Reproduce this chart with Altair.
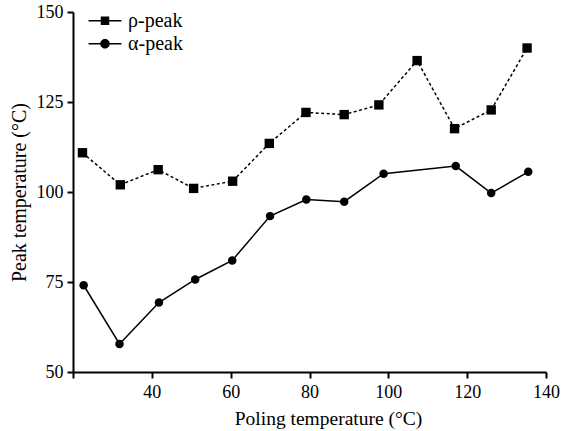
import altair as alt
import pandas as pd

# ---- data ----
rho_x = [22.4, 32.0, 41.6, 50.6, 60.5, 69.8, 79.1, 88.8, 97.6, 107.3, 116.8, 126.1, 135.2]
rho_y = [110.9, 102.0, 106.2, 101.0, 103.0, 113.5, 122.1, 121.5, 124.2, 136.5, 117.6, 122.8, 140.0]
alpha_x = [22.7, 31.8, 41.8, 51.0, 60.4, 70.0, 79.2, 88.8, 98.8, 117.1, 126.1, 135.5]
alpha_y = [74.1, 57.8, 69.3, 75.7, 81.0, 93.3, 97.9, 97.3, 105.1, 107.2, 99.7, 105.6]
series_names = ["ρ-peak", "α-peak"]
x_ticks = [20, 40, 60, 80, 100, 120, 140]
y_ticks = [50, 75, 100, 125, 150]

df = pd.concat([
    pd.DataFrame({"x": rho_x, "y": rho_y, "series": series_names[0]}),
    pd.DataFrame({"x": alpha_x, "y": alpha_y, "series": series_names[1]}),
], ignore_index=True)

FONT = "Liberation Serif"

xenc = alt.X("x:Q", scale=alt.Scale(domain=[20, 140], nice=False, zero=False),
             axis=alt.Axis(values=x_ticks, title="Poling temperature (°C)",
                           labelExpr="datum.value == 20 ? '' : datum.label",
                           labelFlush=False, labelPadding=5,
                           titleFontSize=19.5, titleX=255, titleY=52,
                           titleBaseline="alphabetic", titleAlign="center"))
yenc = alt.Y("y:Q", scale=alt.Scale(domain=[50, 150], nice=False, zero=False),
             axis=alt.Axis(values=y_ticks, title="Peak temperature (°C)",
                           labelPadding=4, titleFontSize=20, titleX=-48, titleY=180,
                           titleBaseline="alphabetic", titleAlign="center", titleAngle=270))

base = alt.Chart(df).encode(x=xenc, y=yenc)

rho = base.transform_filter(alt.datum.series == series_names[0])
alpha = base.transform_filter(alt.datum.series == series_names[1])

rho_line = rho.mark_line(color="black", strokeWidth=1.5, strokeDash=[3, 2.5])
alpha_line = alpha.mark_line(color="black", strokeWidth=1.5)
rho_pts = rho.mark_point(shape="square", filled=True, color="black", opacity=1, size=88)
alpha_pts = alpha.mark_point(shape="circle", filled=True, color="black", opacity=1, size=72)

# legend glyphs: a thin filled bar (the line) plus the marker, all filled
sq_path = "M-1.83,-0.085H1.83V0.085H-1.83Z M-0.47,-0.47H0.47V0.47H-0.47Z"
ci_path = ("M-1.83,-0.085H1.83V0.085H-1.83Z "
           "M0.53,0A0.53,0.53,0,1,1,-0.53,0A0.53,0.53,0,1,1,0.53,0Z")

legend_layer = base.mark_point(opacity=0, filled=True, color="black").encode(
    shape=alt.Shape("series:N",
                    scale=alt.Scale(domain=series_names, range=[sq_path, ci_path]),
                    legend=alt.Legend(title=None, orient="none", legendX=22, legendY=-1.3,
                                      symbolSize=324, symbolOpacity=1,
                                      symbolFillColor="black", symbolStrokeWidth=0,
                                      labelOffset=13, rowPadding=3, padding=0,
                                      labelFont=FONT, labelFontSize=20, labelColor="black"))
)

chart = alt.layer(rho_line, alpha_line, rho_pts, alpha_pts, legend_layer).properties(
    width=473, height=360,
    autosize=alt.AutoSizeParams(type="none"),
    padding={"left": 73, "top": 12, "right": 15, "bottom": 59},
).configure(background="white").configure_view(stroke=None).configure_axis(
    grid=False, domainColor="black", domainWidth=2, tickColor="black", tickWidth=2,
    tickSize=6, labelFont=FONT, labelFontSize=18, labelColor="black",
    titleFont=FONT, titleFontWeight="normal", titleColor="black",
)

chart.save("out.html", embed_options={"renderer": "svg", "actions": False})
